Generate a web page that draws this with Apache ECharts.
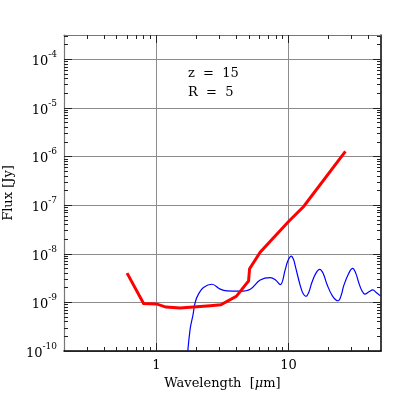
<!DOCTYPE html>
<html>
<head>
<meta charset="utf-8">
<script src="https://cdn.jsdelivr.net/npm/echarts@6/dist/echarts.min.js"></script>
<style>
  html, body { margin: 0; padding: 0; background: #fff; }
  #chart { width: 415px; height: 415px; }
</style>
</head>
<body>
<div id="chart"></div>
<script>
// model SED (red) and template spectrum (blue), wavelength in micron, flux in Jy
var redWave = [0.6, 0.8, 1.0, 1.18, 1.51, 2.55, 3.07, 4.02, 4.98, 5.07, 6.1, 7.27, 10.0, 13.0, 26.9];
var redFlux = [4.0e-9, 9.5e-10, 9.3e-10, 8.0e-10, 7.65e-10, 8.5e-10, 8.9e-10, 1.33e-9, 2.76e-9, 4.94e-9, 1.08e-8, 1.81e-8, 4.6e-8, 9.4e-8, 1.28e-6];

var blueWave = [1.70, 1.80, 1.887, 1.965, 2.08, 2.27, 2.63, 3.04, 3.41, 4.31, 5.13, 6.1, 7.27, 7.93, 8.65,
                9.44, 9.9, 10.48, 10.9, 11.24, 12.27, 12.9, 13.55, 14.2, 15.0, 16.1, 17.2, 18.3, 19.5, 21.5, 23.7, 25.0,
                26.1, 28.3, 30.5, 32.2, 33.9, 35.8, 37.7, 40.5, 43.3, 46.0, 49.5];
var blueFlux = [6e-11, 2.85e-10, 5.33e-10, 1.0e-9, 1.48e-9, 2.02e-9, 2.36e-9, 1.87e-9, 1.72e-9, 1.70e-9, 1.87e-9, 2.89e-9, 3.24e-9, 2.92e-9, 2.31e-9,
                4.78e-9, 7.3e-9, 8.93e-9, 7.6e-9, 5.58e-9, 2.18e-9, 1.5e-9, 1.33e-9, 1.6e-9, 2.56e-9, 4.0e-9, 4.78e-9, 3.9e-9, 2.36e-9, 1.35e-9, 1.08e-9, 1.4e-9,
                2.18e-9, 3.8e-9, 5.0e-9, 4.0e-9, 2.56e-9, 1.75e-9, 1.48e-9, 1.65e-9, 1.81e-9, 1.6e-9, 1.36e-9];

var xMin = 0.2, xMax = 50;
var yMin = 1e-10, yMax = Math.pow(10, -3.5);
var xMajorTicks = [1, 10];
var yMajorTicks = [1e-10, 1e-9, 1e-8, 1e-7, 1e-6, 1e-5, 1e-4];
var annotation = ['z  =  15', 'R  =  5'];

function zip(a, b) {
    return a.map(function (v, i) { return [v, b[i]]; });
}

// minor ticks at 2..9 x 10^n, inside the range
function minorTicks(lo, hi) {
    var out = [];
    for (var n = Math.floor(Math.log10(lo)); n <= Math.ceil(Math.log10(hi)); n++) {
        for (var k = 2; k <= 9; k++) {
            var v = k * Math.pow(10, n);
            if (v > lo && v < hi) out.push(Math.log10(v));
        }
    }
    return out;
}

var lx = [Math.log10(xMin), Math.log10(xMax)];
var ly = [Math.log10(yMin), Math.log10(yMax)];
var xMajor = xMajorTicks.map(Math.log10);
var yMajor = yMajorTicks.map(Math.log10);
var xMinor = minorTicks(xMin, xMax);
var yMinor = minorTicks(yMin, yMax);

var font = 'DejaVu Serif';
var gridColor = '#8c8c8c';

// tick-only axes, drawn in log10 space over the log data axes
function tickAxis(pos, ext, ticks, len, opts) {
    var a = {
        type: 'value',
        position: pos,
        min: ext[0],
        max: ext[1],
        axisLine: {show: false, onZero: false},
        axisTick: {show: true, inside: true, length: len, customValues: ticks,
                   lineStyle: {color: '#222', width: 1}},
        axisLabel: {show: false},
        splitLine: {show: false}
    };
    return Object.assign(a, opts || {});
}

var myChart = echarts.init(document.getElementById('chart'));

myChart.setOption({
    animation: false,
    backgroundColor: '#fff',
    grid: {left: 64, top: 35, right: 34, bottom: 64, containLabel: false, outerBoundsMode: 'none'},
    xAxis: [
        {type: 'log', min: xMin, max: xMax, show: false},
        tickAxis('bottom', lx, xMajor, 8, {
            axisLine: {show: true, onZero: false, lineStyle: {color: '#000', width: 1.5}},
            axisLabel: {
                show: true, customValues: xMajor, margin: 8,
                fontFamily: font, fontSize: 13, color: '#000',
                formatter: function (v) { return String(Math.round(Math.pow(10, v))); }
            },
            splitLine: {show: true, lineStyle: {color: gridColor, width: 1}},
            name: '{n|Wavelength  [}{i|μ}{n|m]}',
            nameLocation: 'middle',
            nameGap: 25,
            nameTextStyle: {
                rich: {
                    n: {fontFamily: font, fontSize: 13, color: '#000'},
                    i: {fontFamily: font, fontSize: 13, fontStyle: 'italic', color: '#000'}
                }
            }
        }),
        tickAxis('bottom', lx, xMinor, 4),
        tickAxis('top', lx, xMajor, 8, {axisLine: {show: true, onZero: false, lineStyle: {color: '#777', width: 1.2}}}),
        tickAxis('top', lx, xMinor, 4)
    ],
    yAxis: [
        {type: 'log', min: yMin, max: yMax, show: false},
        tickAxis('left', ly, yMajor, 8, {
            axisLine: {show: true, onZero: false, lineStyle: {color: '#777', width: 1.2}},
            axisLabel: {
                show: true, customValues: yMajor, margin: 7,
                formatter: function (v) { return '{b|10}{s|' + Math.round(v) + '}'; },
                rich: {
                    b: {fontFamily: font, fontSize: 13, color: '#000', lineHeight: 18, verticalAlign: 'bottom'},
                    s: {fontFamily: font, fontSize: 9, color: '#000', verticalAlign: 'top'}
                }
            },
            splitLine: {show: true, lineStyle: {color: gridColor, width: 1}},
            name: 'Flux [Jy]',
            nameLocation: 'middle',
            nameRotate: 90,
            nameGap: 44,
            nameTextStyle: {fontFamily: font, fontSize: 13, color: '#000'}
        }),
        tickAxis('left', ly, yMinor, 4),
        tickAxis('right', ly, yMajor, 8, {axisLine: {show: true, onZero: false, lineStyle: {color: '#000', width: 1.5}}}),
        tickAxis('right', ly, yMinor, 4)
    ],
    series: [
        {
            name: 'template',
            type: 'line',
            xAxisIndex: 0,
            yAxisIndex: 0,
            data: zip(blueWave, blueFlux),
            smooth: 0.4,
            showSymbol: false,
            symbol: 'none',
            clip: true,
            lineStyle: {color: '#0000ff', width: 1.2}
        },
        {
            name: 'model',
            type: 'line',
            xAxisIndex: 0,
            yAxisIndex: 0,
            data: zip(redWave, redFlux),
            showSymbol: false,
            symbol: 'none',
            clip: true,
            lineStyle: {color: '#ff0000', width: 3, join: 'miter'}
        }
    ],
    graphic: [
        {type: 'text', left: 188, top: 67, style: {text: annotation[0], font: '13px "DejaVu Serif"', fill: '#000'}},
        {type: 'text', left: 188, top: 86, style: {text: annotation[1], font: '13px "DejaVu Serif"', fill: '#000'}}
    ]
});
</script>
</body>
</html>
